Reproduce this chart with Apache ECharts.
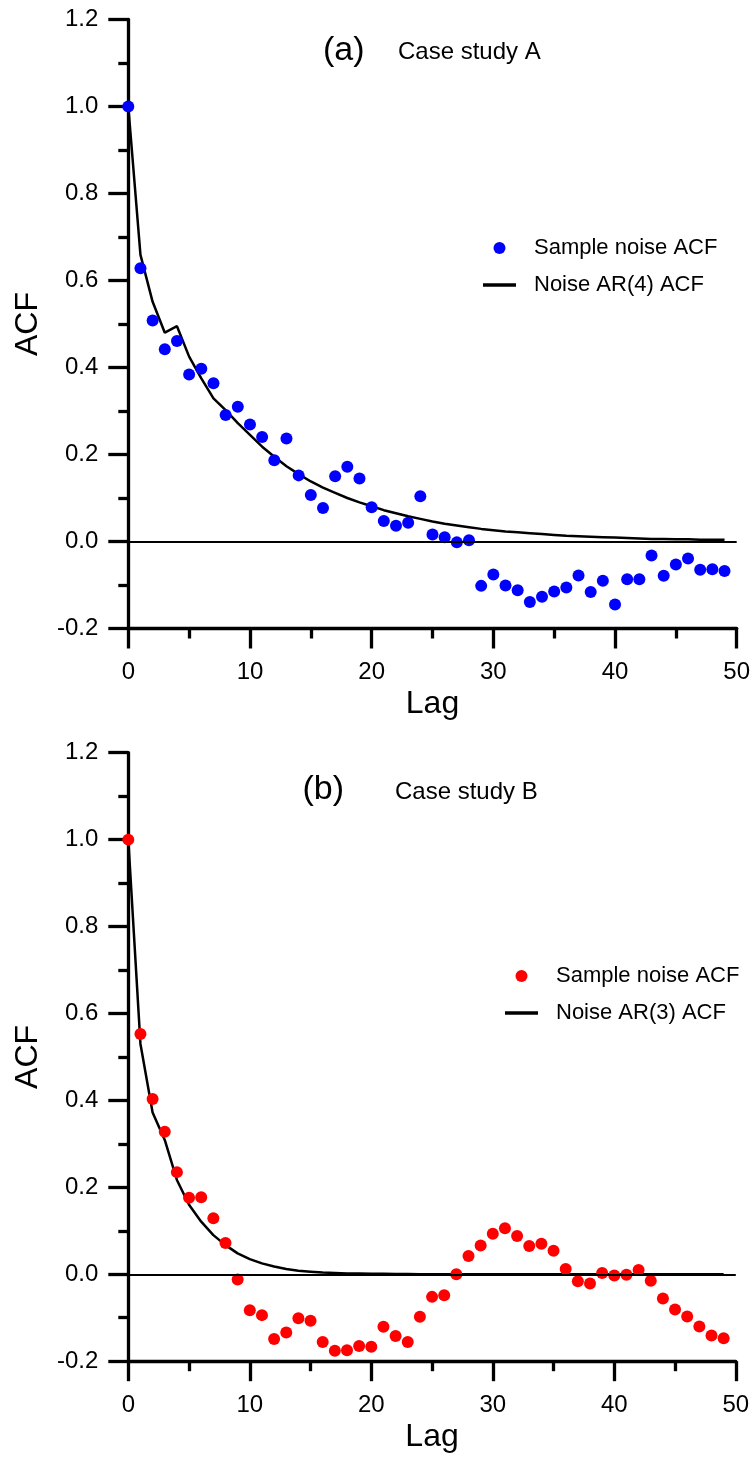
<!DOCTYPE html>
<html>
<head>
<meta charset="utf-8">
<script src="https://cdn.jsdelivr.net/npm/echarts@6/dist/echarts.min.js"></script>
<style>
  html, body { margin: 0; padding: 0; background: #fff; }
  #chart { width: 754px; height: 1457px; }
</style>
</head>
<body>
<div id="chart"></div>
<script>
// lags shared by both panels
const lags = [0, 1, 2, 3, 4, 5, 6, 7, 8, 9, 10, 11, 12, 13, 14, 15, 16, 17, 18, 19,
  20, 21, 22, 23, 24, 25, 26, 27, 28, 29, 30, 31, 32, 33, 34, 35, 36, 37, 38, 39,
  40, 41, 42, 43, 44, 45, 46, 47, 48, 49];

// (a) case study A
const sampleA = [1.0, 0.628, 0.508, 0.442, 0.461, 0.384, 0.397, 0.364, 0.291, 0.310,
  0.269, 0.240, 0.187, 0.237, 0.152, 0.107, 0.077, 0.150, 0.172, 0.145,
  0.079, 0.047, 0.036, 0.043, 0.104, 0.016, 0.010, -0.002, 0.003, -0.102,
  -0.076, -0.101, -0.112, -0.139, -0.127, -0.115, -0.106, -0.078, -0.116, -0.090,
  -0.145, -0.087, -0.087, -0.032, -0.079, -0.053, -0.039, -0.065, -0.064, -0.068];
const arA = [1.0, 0.659, 0.551, 0.480, 0.495, 0.425, 0.375, 0.329, 0.302, 0.272,
  0.245, 0.218, 0.195, 0.173, 0.155, 0.138, 0.124, 0.112, 0.100, 0.090,
  0.081, 0.072, 0.065, 0.058, 0.052, 0.046, 0.041, 0.037, 0.033, 0.029,
  0.026, 0.023, 0.021, 0.019, 0.017, 0.015, 0.013, 0.012, 0.011, 0.010,
  0.009, 0.008, 0.007, 0.006, 0.006, 0.005, 0.005, 0.004, 0.004, 0.004];

// (b) case study B
const sampleB = [1.0, 0.553, 0.403, 0.328, 0.235, 0.176, 0.177, 0.129, 0.072, -0.012,
  -0.083, -0.094, -0.149, -0.134, -0.101, -0.107, -0.156, -0.176, -0.175, -0.165,
  -0.167, -0.121, -0.142, -0.156, -0.098, -0.052, -0.048, 0.0, 0.042, 0.066,
  0.093, 0.106, 0.088, 0.065, 0.070, 0.054, 0.012, -0.016, -0.021, 0.003,
  -0.003, -0.001, 0.010, -0.015, -0.056, -0.081, -0.097, -0.120, -0.141, -0.147];
const arB = [1.0, 0.530, 0.372, 0.309, 0.217, 0.160, 0.121, 0.090, 0.067, 0.048,
  0.035, 0.025, 0.018, 0.012, 0.008, 0.006, 0.004, 0.003, 0.002, 0.0015,
  0.001, 0.001, 0.0005, 0.0005, 0, 0, 0, 0, 0, 0,
  0, 0, 0, 0, 0, 0, 0, 0, 0, 0,
  0, 0, 0, 0, 0, 0, 0, 0, 0, 0];

const legendText = {
  sampleA: 'Sample noise ACF',
  arA: 'Noise AR(4) ACF',
  sampleB: 'Sample noise ACF',
  arB: 'Noise AR(3) ACF'
};

(function () {
  const chart = echarts.init(document.getElementById('chart'));
  const font = 'Liberation Sans, Arial, sans-serif';
  const lineIcon = 'path://M0,0H33V3.5H0Z';

  function pairs(vals) {
    return lags.map(function (l, i) { return [l, vals[i]]; });
  }

  function xAxis(idx) {
    return {
      gridIndex: idx, type: 'value', min: 0, max: 50, interval: 10,
      name: 'Lag', nameLocation: 'middle', nameGap: 60, nameMoveOverlap: false,
      nameTextStyle: { fontSize: 32, color: '#000', fontFamily: font },
      axisLine: { onZero: false, lineStyle: { color: '#000', width: 3.3 } },
      axisTick: { length: 20, lineStyle: { width: 3.3, color: '#000' } },
      minorTick: { show: true, splitNumber: 2, length: 10, lineStyle: { width: 3.3, color: '#000' } },
      axisLabel: { margin: 32, fontSize: 24, color: '#000', fontFamily: font },
      splitLine: { show: false }
    };
  }

  function yAxis(idx) {
    return {
      gridIndex: idx, type: 'value', min: -0.2, max: 1.2, interval: 0.2,
      name: 'ACF', nameLocation: 'middle', nameGap: 84, nameMoveOverlap: false,
      nameTextStyle: { fontSize: 32, color: '#000', fontFamily: font },
      axisLine: { show: true, onZero: false, lineStyle: { color: '#000', width: 3.3 } },
      axisTick: { show: true, length: 20, lineStyle: { width: 3.3, color: '#000' } },
      minorTick: { show: true, splitNumber: 2, length: 10, lineStyle: { width: 3.3, color: '#000' } },
      axisLabel: {
        margin: 30, fontSize: 24, color: '#000', fontFamily: font,
        formatter: function (v) { return v.toFixed(1); }
      },
      splitLine: { show: false }
    };
  }

  function legend(names, left, top) {
    return {
      data: [{ name: names[0], icon: 'circle' }, { name: names[1], icon: lineIcon }],
      orient: 'vertical', left: left, top: top,
      itemWidth: 33, itemHeight: 12, itemGap: 15,
      selectedMode: false,
      formatter: function (n) { return legendText[n]; },
      textStyle: { fontSize: 22, color: '#000', fontFamily: font, padding: [0, 0, 0, 13] }
    };
  }

  const zeroLine = {
    silent: true, symbol: 'none', label: { show: false },
    lineStyle: { color: '#000', width: 2, type: 'solid' },
    data: [{ yAxis: 0 }]
  };

  chart.setOption({
    animation: false,
    backgroundColor: '#fff',
    grid: [
      { left: 128.3, top: 19.5, width: 608.4, height: 609 },
      { left: 128.3, top: 752.7, width: 607.5, height: 608.5 }
    ],
    xAxis: [xAxis(0), xAxis(1)],
    yAxis: [yAxis(0), yAxis(1)],
    legend: [
      legend(['sampleA', 'arA'], 478, 232),
      legend(['sampleB', 'arB'], 500, 960)
    ],
    graphic: [
      { type: 'text', x: 343.7, y: 51, style: { text: '(a)', fontSize: 34, fontFamily: font, fill: '#000', textAlign: 'center', textVerticalAlign: 'middle' } },
      { type: 'text', x: 398, y: 52, style: { text: 'Case study A', fontSize: 24, fontFamily: font, fill: '#000', textAlign: 'left', textVerticalAlign: 'middle' } },
      { type: 'text', x: 323.3, y: 790, style: { text: '(b)', fontSize: 34, fontFamily: font, fill: '#000', textAlign: 'center', textVerticalAlign: 'middle' } },
      { type: 'text', x: 395, y: 792, style: { text: 'Case study B', fontSize: 24, fontFamily: font, fill: '#000', textAlign: 'left', textVerticalAlign: 'middle' } }
    ],
    series: [
      {
        name: 'arA', type: 'line', xAxisIndex: 0, yAxisIndex: 0,
        data: pairs(arA), symbol: 'none', smooth: false,
        lineStyle: { color: '#000', width: 2.5 }, itemStyle: { color: '#000' },
        markLine: zeroLine, z: 2
      },
      {
        name: 'sampleA', type: 'scatter', xAxisIndex: 0, yAxisIndex: 0,
        data: pairs(sampleA), symbol: 'circle', symbolSize: 12,
        itemStyle: { color: '#0000ff', opacity: 1 }, z: 3
      },
      {
        name: 'arB', type: 'line', xAxisIndex: 1, yAxisIndex: 1,
        data: pairs(arB), symbol: 'none', smooth: false,
        lineStyle: { color: '#000', width: 2.5 }, itemStyle: { color: '#000' },
        markLine: zeroLine, z: 2
      },
      {
        name: 'sampleB', type: 'scatter', xAxisIndex: 1, yAxisIndex: 1,
        data: pairs(sampleB), symbol: 'circle', symbolSize: 12,
        itemStyle: { color: '#ff0000', opacity: 1 }, z: 3
      }
    ]
  });
})();
</script>
</body>
</html>
